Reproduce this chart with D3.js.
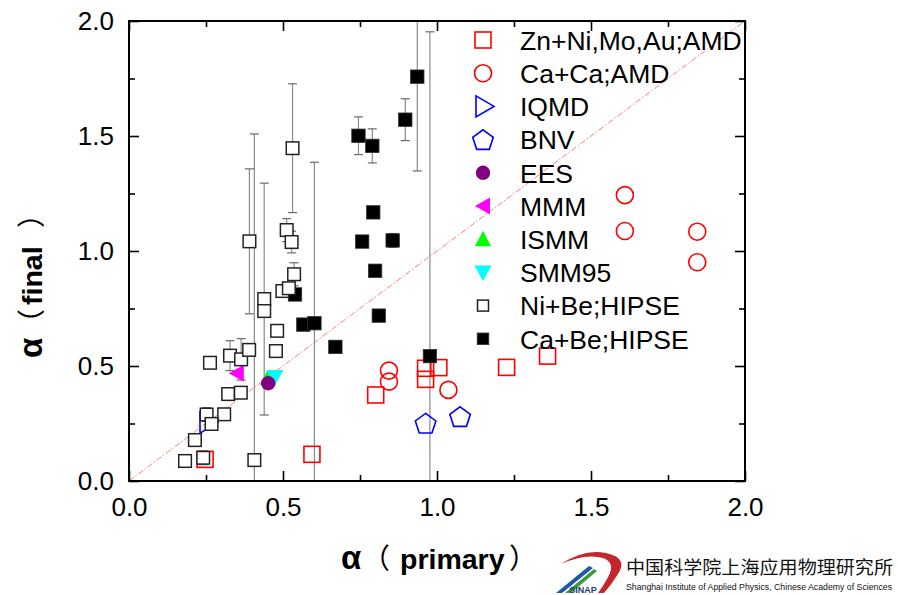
<!DOCTYPE html>
<html><head><meta charset="utf-8">
<script src="https://cdn.jsdelivr.net/npm/d3@7"></script>
<style>body{margin:0;background:#fff;} svg{display:block;}</style>
</head><body><svg id="c" width="898" height="595"></svg>
<script>
// ---------------- DATA ----------------
const seriesNames = ["Zn+Ni,Mo,Au;AMD","Ca+Ca;AMD","IQMD","BNV","EES","MMM","ISMM","SMM95","Ni+Be;HIPSE","Ca+Be;HIPSE"];
// [alpha primary, alpha final]
const znNiAMD = [[0.247,0.094],[0.594,0.116],[0.801,0.374],[0.963,0.442],[0.963,0.490],[1.006,0.493],[1.226,0.494],[1.359,0.543]];
const caCaAMD = [[0.844,0.480],[0.844,0.432],[1.037,0.396],[1.610,1.243],[1.610,1.087],[1.845,1.084],[1.845,0.951]];
const iqmd = [[0.250,0.254]];
const bnv = [[0.963,0.251],[1.075,0.280]];
const ees = [[0.452,0.425]];
const mmm = [[0.350,0.468]];
const ismm = [[0.451,0.448]];
const smm95 = [[0.474,0.452]];
// [alpha primary, alpha final, error]
const niBeHIPSE = [[0.391,1.042,0.315],[0.407,0.091,1.418],[0.439,0.791,0.504],[0.439,0.739,0],[0.531,1.447,0.28],
  [0.512,1.091,0.05],[0.528,1.039,0.047],[0.536,0.899,0.05],[0.498,0.826,0],[0.519,0.838,0],[0.481,0.653,0],
  [0.477,0.565,0],[0.263,0.514,0],[0.328,0.545,0.065],[0.364,0.529,0.09],[0.390,0.570,0],[0.322,0.378,0],
  [0.363,0.384,0],[0.309,0.290,0],[0.252,0.289,0.03],[0.268,0.248,0],[0.214,0.178,0],[0.182,0.087,0],[0.241,0.101,0.03]];
const caBeHIPSE = [[0.936,1.758,0.41],[0.745,1.501,0.082],[0.790,1.457,0.074],[0.897,1.571,0.091],[0.793,1.168,0.02],
  [0.757,1.041,0],[0.856,1.046,0.03],[0.799,0.914,0.02],[0.811,0.719,0],[0.670,0.583,0.02],[0.566,0.680,0.02],
  [0.602,0.686,0.70],[0.539,0.811,0],[0.977,0.543,1.41]];
const majorTicks = [0.0,0.5,1.0,1.5,2.0];
const minorTicks = [0.25,0.75,1.25,1.75];
const xTitleParts = ["α","（","primary","）"];
const yTitleParts = ["α","（","final","）"];
const logoCN = "中国科学院上海应用物理研究所";
const logoEN = "Shanghai Institute of Applied Physics, Chinese Academy of Sciences";

// ---------------- CHART ----------------
const FONT = "'Liberation Sans', Arial, Helvetica, sans-serif";
const CJK = "'Noto Sans CJK SC'";
const svg = d3.select("#c");
const x = d3.scaleLinear().domain([0,2]).range([129,745]);
const y = d3.scaleLinear().domain([0,2]).range([481,21]);

svg.append("rect").attr("width",898).attr("height",595).attr("fill","#fff");
svg.append("defs").append("clipPath").attr("id","pc").append("rect")
  .attr("x",x(0)).attr("y",y(2)).attr("width",x(2)-x(0)).attr("height",y(0)-y(2));

const plot = svg.append("g").attr("clip-path","url(#pc)");

// diagonal y = x
plot.append("line").attr("x1",x(0)).attr("y1",y(0)).attr("x2",x(2)).attr("y2",y(2))
  .attr("stroke","#ff5a5a").attr("stroke-width",0.8).attr("stroke-dasharray","6,2,1.5,2");

// error bars
function errBars(data){
  data.filter(d=>d[2]>0).forEach(d=>{
    const cx=x(d[0]), y1=y(d[1]-d[2]), y2=y(d[1]+d[2]);
    plot.append("line").attr("x1",cx).attr("x2",cx).attr("y1",y1).attr("y2",y2).attr("stroke","#8a8a8a").attr("stroke-width",1.2);
    [y1,y2].forEach(yy=>plot.append("line").attr("x1",cx-4.5).attr("x2",cx+4.5).attr("y1",yy).attr("y2",yy).attr("stroke","#6a6a6a").attr("stroke-width",1.2));
  });
}
errBars(caBeHIPSE);
errBars(niBeHIPSE);

function marker(g,type,cx,cy,legend){
  switch(type){
    case "redSquare":
      g.append("rect").attr("x",cx-8).attr("y",cy-8).attr("width",16).attr("height",16)
        .attr("fill","none").attr("stroke","#ff0000").attr("stroke-width",1.6); break;
    case "redCircle":
      g.append("circle").attr("cx",cx).attr("cy",cy).attr("r",8.5)
        .attr("fill","none").attr("stroke","#ff0000").attr("stroke-width",1.6); break;
    case "iqmd":
      g.append("path").attr("d",`M${cx-6},${cy-10.5}L${cx+12},${cy}L${cx-6},${cy+10.5}Z`)
        .attr("fill","none").attr("stroke","#0000ff").attr("stroke-width",1.6); break;
    case "bnv": {
      const R=10.8, pts=d3.range(5).map(i=>{const a=-Math.PI/2+i*2*Math.PI/5;return [cx+R*Math.cos(a),cy+1+R*Math.sin(a)];});
      g.append("path").attr("d","M"+pts.join("L")+"Z").attr("fill","none").attr("stroke","#0000ff").attr("stroke-width",1.6); break; }
    case "ees":
      g.append("circle").attr("cx",cx).attr("cy",cy).attr("r",7.2).attr("fill","#800080"); break;
    case "mmm":
      g.append("path").attr("d",`M${cx-8},${cy}L${cx+7},${cy-8.5}L${cx+7},${cy+8.5}Z`).attr("fill","#ff00ff"); break;
    case "ismm":
      g.append("path").attr("d",`M${cx},${cy-8.5}L${cx+8},${cy+7}L${cx-8},${cy+7}Z`).attr("fill","#00ff00"); break;
    case "smm95":
      g.append("path").attr("d",`M${cx},${cy+8.5}L${cx+8.5},${cy-7}L${cx-8.5},${cy-7}Z`).attr("fill","#00ffff"); break;
    case "open": {
      const h = legend?5.5:6.3;
      g.append("rect").attr("x",cx-h).attr("y",cy-h).attr("width",2*h).attr("height",2*h)
        .attr("fill","#fff").attr("stroke","#222").attr("stroke-width",1.5); break; }
    case "filled": {
      const h = legend?5.8:6.7;
      g.append("rect").attr("x",cx-h).attr("y",cy-h).attr("width",2*h).attr("height",2*h)
        .attr("fill","#000").attr("stroke","#333").attr("stroke-width",0.8); break; }
  }
}
const types = ["redSquare","redCircle","iqmd","bnv","ees","mmm","ismm","smm95","open","filled"];
const allData = [znNiAMD,caCaAMD,iqmd,bnv,ees,mmm,ismm,smm95,niBeHIPSE,caBeHIPSE];
const drawOrder = [0,1,2,3,6,7,5,4,9,8];
drawOrder.forEach(i=>allData[i].forEach(d=>marker(plot,types[i],x(d[0]),y(d[1]),false)));

// axes
function styleAxis(g){
  g.select(".domain").remove();
  g.selectAll(".tick line").attr("stroke","#000").attr("stroke-width",1.6);
  g.selectAll("text").attr("font-family",FONT).attr("font-size",26).attr("fill","#000");
}
const fmt = d3.format(".1f");
svg.append("g").attr("transform",`translate(0,${y(0)})`).call(d3.axisBottom(x).tickValues(majorTicks).tickSize(-10).tickPadding(17).tickFormat(fmt)).call(styleAxis);
svg.append("g").attr("transform",`translate(0,${y(0)})`).call(d3.axisBottom(x).tickValues(minorTicks).tickSize(-6).tickFormat("")).call(styleAxis);
svg.append("g").attr("transform",`translate(0,${y(2)})`).call(d3.axisTop(x).tickValues(majorTicks).tickSize(-10).tickFormat("")).call(styleAxis);
svg.append("g").attr("transform",`translate(0,${y(2)})`).call(d3.axisTop(x).tickValues(minorTicks).tickSize(-6).tickFormat("")).call(styleAxis);
svg.append("g").attr("transform",`translate(${x(0)},0)`).call(d3.axisLeft(y).tickValues(majorTicks).tickSize(-10).tickPadding(15).tickFormat(fmt)).call(styleAxis);
svg.append("g").attr("transform",`translate(${x(0)},0)`).call(d3.axisLeft(y).tickValues(minorTicks).tickSize(-6).tickFormat("")).call(styleAxis);
svg.append("g").attr("transform",`translate(${x(2)},0)`).call(d3.axisRight(y).tickValues(majorTicks).tickSize(-10).tickFormat("")).call(styleAxis);
svg.append("g").attr("transform",`translate(${x(2)},0)`).call(d3.axisRight(y).tickValues(minorTicks).tickSize(-6).tickFormat("")).call(styleAxis);

svg.append("rect").attr("x",x(0)).attr("y",y(2)).attr("width",x(2)-x(0)).attr("height",y(0)-y(2))
  .attr("fill","none").attr("stroke","#000").attr("stroke-width",2);

// legend
const leg = svg.append("g");
seriesNames.forEach((n,i)=>{
  const cy = 40 + i*33.2;
  const mx = types[i]==="iqmd" ? 482 : 483;
  marker(leg, types[i], mx, cy, true);
  leg.append("text").attr("x",520).attr("y",cy+9.8).attr("font-family",FONT).attr("font-size",26.5).attr("fill","#000").text(n);
});

// axis titles (tspans positioned along the text direction)
function title(g, parts, pos, base){
  const t = g.append("text").attr("font-weight","bold").attr("fill","#000");
  parts.forEach((p,i)=>{
    const ts = t.append("tspan").attr("x",pos[i]).attr("y",base).text(p);
    if(i===0) ts.attr("font-family",FONT).attr("font-size",33);
    else if(p.length===1) ts.attr("font-family",CJK).attr("font-weight","normal").attr("font-size",28);
    else ts.attr("font-family",FONT).attr("font-size",28.5);
  });
}
title(svg, xTitleParts, [341,362,400,509], 569);
title(svg.append("g").attr("transform","rotate(-90)"), yTitleParts, [-358,-337,-305,-228], 42);

// logo
const logo = svg.append("g");
logo.append("path").attr("d","M556,593 L589,566 L593,568 L562,593 Z").attr("fill","#1e5aa8");
logo.append("path").attr("d","M565,593 L594,569 L597,571 L571,593 Z").attr("fill","#3a9a3a");
logo.append("path").attr("d","M561,564 Q590,545 615,556 Q626,562 618,574 Q612,584 604,593 L598,593 Q606,582 610,573 Q614,562 603,558 Q585,553 561,564 Z").attr("fill","#c4262e");
logo.append("text").attr("x",583).attr("y",593).attr("text-anchor","middle").attr("font-family",FONT).attr("font-weight","bold").attr("font-size",9).attr("fill","#1b3f7a").text("SINAP");
logo.append("text").attr("x",626).attr("y",574).attr("font-family",CJK).attr("font-size",18)
  .attr("textLength",267).attr("lengthAdjust","spacingAndGlyphs").attr("fill","#111").text(logoCN);
logo.append("text").attr("x",626).attr("y",589.5).attr("font-family",FONT).attr("font-size",8.3)
  .attr("textLength",266).attr("lengthAdjust","spacingAndGlyphs").attr("fill","#111").text(logoEN);
</script></body></html>
